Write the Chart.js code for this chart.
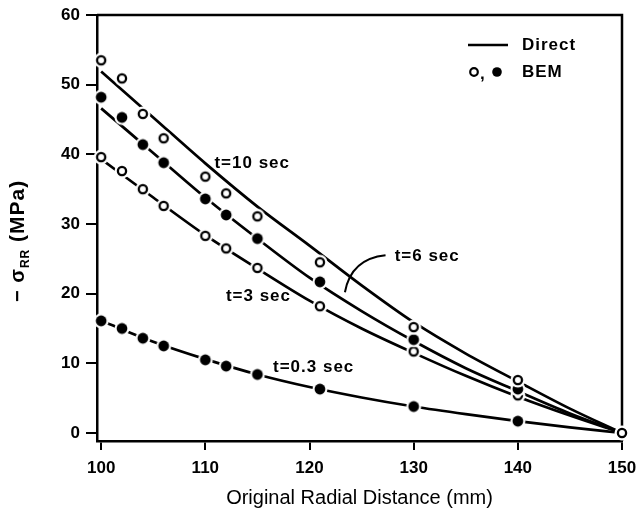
<!DOCTYPE html>
<html>
<head>
<meta charset="utf-8">
<script src="https://cdn.jsdelivr.net/npm/chart.js@4.4.1/dist/chart.umd.min.js"></script>
<style>
  html, body { margin: 0; padding: 0; background: #fff; }
  #wrap { width: 641px; height: 512px; }
</style>
</head>
<body>
<div id="wrap"><canvas id="c" width="641" height="512"></canvas></div>
<script>
// radial stress -sigma_RR vs original radial distance, several times t

// BEM results (markers)
const bemX  = [100, 102, 104, 106, 110, 112, 115, 121, 130, 140, 150];
const bem10 = [53.5, 50.9, 45.8, 42.3, 36.8, 34.4, 31.1, 24.5, 15.2, 7.6, 0];
const bem6  = [48.2, 45.3, 41.4, 38.8, 33.6, 31.3, 27.9, 21.7, 13.4, 6.3];
const bem3  = [39.6, 37.6, 35.0, 32.6, 28.3, 26.5, 23.7, 18.2, 11.7, 5.4];
const bem03 = [16.1, 15.0, 13.6, 12.5, 10.5, 9.6, 8.4, 6.3, 3.8, 1.7];

// direct solution (solid curves)
const directX  = [100, 105, 110, 115, 120, 125, 130, 135, 140, 145, 150];
const direct10 = [51.9, 45.3, 38.7, 32.5, 26.9, 21.2, 15.9, 11.4, 7.4, 3.5, 0];
const direct6  = [46.6, 40.2, 33.8, 27.9, 22.3, 17.5, 13.2, 9.3, 6.0, 2.8, 0];
const direct3  = [39.3, 33.8, 28.4, 23.6, 19.0, 15.0, 11.5, 8.2, 5.2, 2.5, 0];
const direct03 = [16.1, 13.1, 10.6, 8.4, 6.6, 5.1, 3.8, 2.7, 1.7, 0.8, 0];

const xTicks = [100, 110, 120, 130, 140, 150];
const yTicks = [0, 10, 20, 30, 40, 50, 60];

// curve labels, placed in data units
const curveLabels = [
  { text: 't=10 sec',  x: 114.5, y: 38.7 },
  { text: 't=6 sec',   x: 131.3, y: 25.4 },
  { text: 't=3 sec',   x: 115.1, y: 19.6 },
  { text: 't=0.3 sec', x: 120.4, y: 9.4 }
];

const FONT = '"Liberation Sans", Arial, sans-serif';

function pts(xs, ys) {
  return ys.map((y, i) => ({ x: xs[i], y }));
}

// marker with a white halo so the curves break around it
function marker(filled) {
  const cv = document.createElement('canvas');
  cv.width = 18; cv.height = 18;
  const g = cv.getContext('2d');
  g.fillStyle = '#fff';
  g.beginPath(); g.arc(9, 9, 7.5, 0, Math.PI * 2); g.fill();
  g.beginPath();
  if (filled) {
    g.fillStyle = '#000';
    g.arc(9, 9, 5.4, 0, Math.PI * 2); g.fill();
  } else {
    g.strokeStyle = '#000'; g.lineWidth = 2.3;
    g.arc(9, 9, 4.1, 0, Math.PI * 2); g.stroke();
  }
  return cv;
}
const openDot = marker(false);
const fullDot = marker(true);

function lineSet(ys) {
  return {
    data: pts(directX, ys), showLine: true, pointRadius: 0,
    borderColor: '#000', borderWidth: 2.7, cubicInterpolationMode: 'monotone',
    order: 2, clip: false
  };
}
function bemSet(ys, dot) {
  return {
    data: pts(bemX, ys), showLine: false, pointStyle: dot,
    pointRadius: 5, order: 1, clip: false
  };
}

const decor = {
  id: 'decor',
  beforeDatasetsDraw(chart) {
    const { ctx, chartArea: a } = chart;
    ctx.save();
    ctx.strokeStyle = '#000';
    ctx.lineWidth = 2.5;
    ctx.beginPath();
    ctx.moveTo(a.left, a.top);
    ctx.lineTo(a.right, a.top);
    ctx.lineTo(a.right, a.bottom);
    ctx.stroke();
    ctx.restore();
  },
  afterDraw(chart) {
    const { ctx, scales } = chart;
    const sx = scales.x, sy = scales.y;
    ctx.save();
    ctx.fillStyle = '#000';
    ctx.strokeStyle = '#000';
    ctx.textBaseline = 'middle';
    ctx.letterSpacing = '1px';

    // curve labels
    ctx.font = 'bold 17px ' + FONT;
    ctx.textAlign = 'center';
    curveLabels.forEach(l => {
      ctx.fillText(l.text, sx.getPixelForValue(l.x), sy.getPixelForValue(l.y));
    });

    // leader from "t=6 sec" to its curve
    ctx.lineWidth = 2;
    ctx.beginPath();
    ctx.moveTo(sx.getPixelForValue(127.3), sy.getPixelForValue(25.5));
    ctx.quadraticCurveTo(sx.getPixelForValue(124.0), sy.getPixelForValue(25.0),
                         sx.getPixelForValue(123.4), sy.getPixelForValue(20.2));
    ctx.stroke();

    // legend
    ctx.font = 'bold 17px ' + FONT;
    ctx.textAlign = 'left';
    ctx.lineWidth = 2.7;
    ctx.beginPath(); ctx.moveTo(468, 45); ctx.lineTo(508, 45); ctx.stroke();
    ctx.fillText('Direct', 522, 45);
    ctx.lineWidth = 2.2;
    ctx.beginPath(); ctx.arc(474, 72, 3.8, 0, Math.PI * 2); ctx.stroke();
    ctx.fillText(',', 480, 74);
    ctx.beginPath(); ctx.arc(497, 72, 4.8, 0, Math.PI * 2); ctx.fill();
    ctx.fillText('BEM', 522, 72);

    // y axis title with subscript
    ctx.translate(18, 302);
    ctx.rotate(-Math.PI / 2);
    let px = 0;
    const put = (t, f, dy) => {
      ctx.font = f;
      ctx.fillText(t, px, dy);
      px += ctx.measureText(t).width;
    };
    put('\u2212 \u03C3', 'bold 20px ' + FONT, 0);
    put('RR', 'bold 12px ' + FONT, 8);
    put(' (MPa)', 'bold 21px ' + FONT, 0);
    ctx.restore();
  }
};

new Chart(document.getElementById('c'), {
  type: 'scatter',
  data: {
    datasets: [
      lineSet(direct10), lineSet(direct6), lineSet(direct3), lineSet(direct03),
      bemSet(bem10, openDot), bemSet(bem6, fullDot),
      bemSet(bem3, openDot), bemSet(bem03, fullDot)
    ]
  },
  options: {
    responsive: false,
    animation: false,
    events: [],
    layout: { padding: { top: 15, right: 19, left: 0, bottom: 0 } },
    plugins: { legend: { display: false }, tooltip: { enabled: false } },
    scales: {
      x: {
        type: 'linear', min: 99.6, max: 150,
        afterBuildTicks: s => { s.ticks = xTicks.map(v => ({ value: v })); },
        afterFit: s => { s.height = 71; s.paddingLeft = 0; s.paddingRight = 0; },
        grid: { drawOnChartArea: false, drawTicks: true, tickLength: 9, color: '#000', lineWidth: 2 },
        border: { display: true, color: '#000', width: 2.5 },
        ticks: { color: '#000', padding: 8, maxRotation: 0, font: { family: FONT, size: 17, weight: 'bold' } },
        title: {
          display: true, text: 'Original Radial Distance (mm)', color: '#000',
          font: { family: FONT, size: 20 }, padding: { top: 0, bottom: 2 }
        }
      },
      y: {
        type: 'linear', min: -1.15, max: 60,
        afterBuildTicks: s => { s.ticks = yTicks.map(v => ({ value: v })); },
        afterFit: s => { s.width = 97; s.paddingTop = 0; s.paddingBottom = 0; },
        grid: { drawOnChartArea: false, drawTicks: true, tickLength: 11, color: '#000', lineWidth: 2 },
        border: { display: true, color: '#000', width: 2.5 },
        ticks: { color: '#000', padding: 6, font: { family: FONT, size: 17, weight: 'bold' } }
      }
    }
  },
  plugins: [decor]
});
</script>
</body>
</html>
